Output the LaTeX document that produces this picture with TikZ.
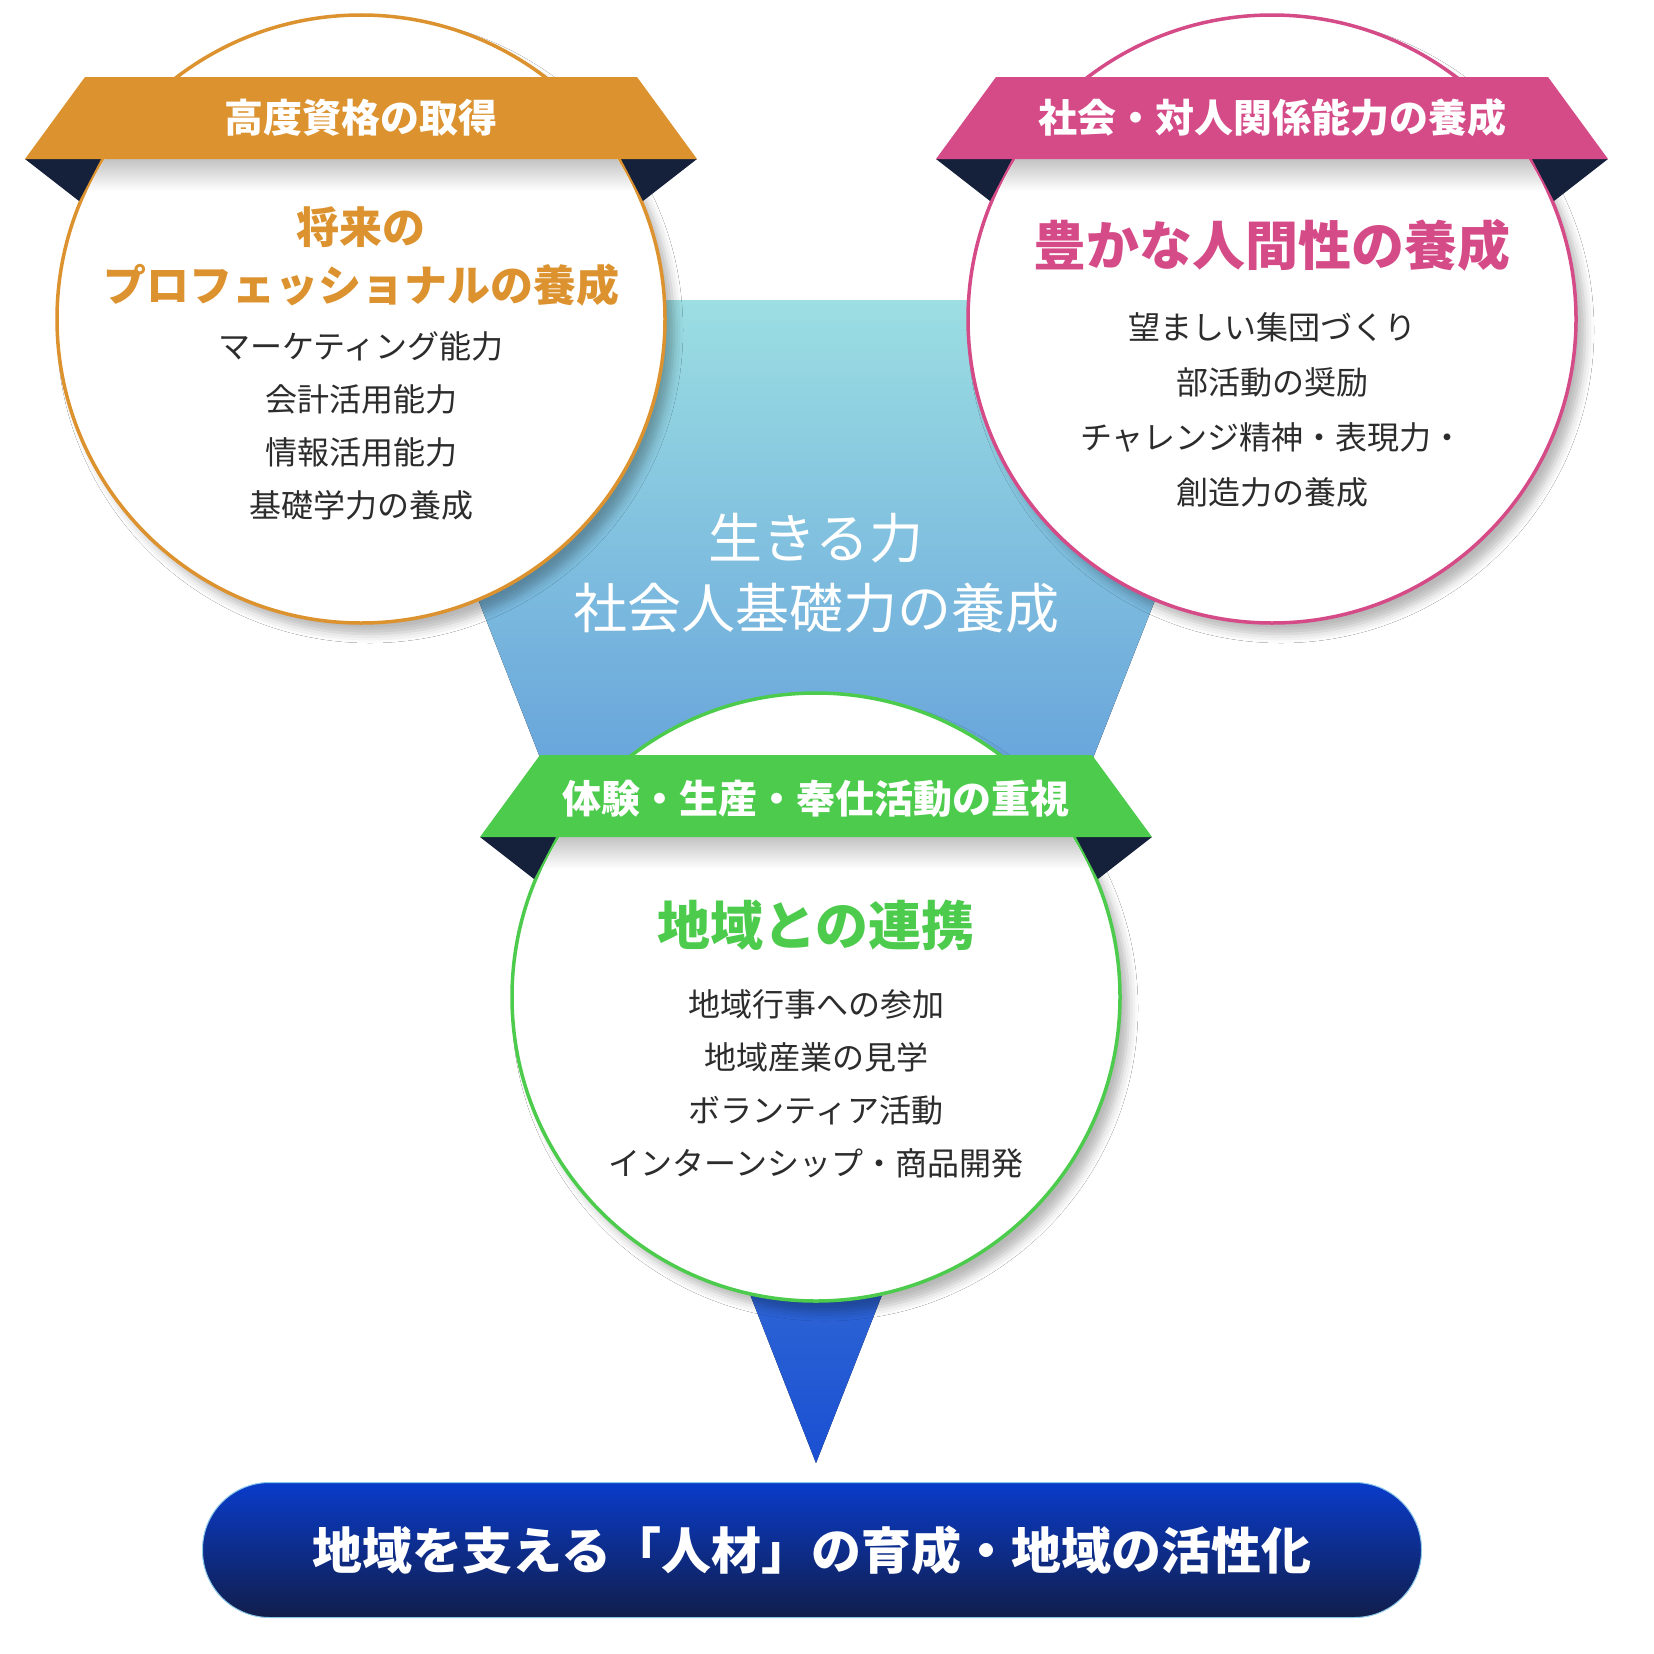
\documentclass[tikz,border=0pt]{standalone}
\usepackage{fontspec}
\newfontfamily\jp{Noto Sans CJK JP}
\usepackage{tikz}
\usetikzlibrary{positioning,shadows.blur}
\definecolor{orng}{HTML}{DC922E}
\definecolor{pink}{HTML}{D54B88}
\definecolor{grn}{HTML}{4CCB4C}
\definecolor{fold}{HTML}{15203A}
\definecolor{ink}{HTML}{2C2C2C}
\definecolor{tealtop}{HTML}{9CDEE2}
\definecolor{tealmid}{HTML}{6ABAD6}
\definecolor{bluetip}{HTML}{1A4FD2}
\definecolor{pilltop}{HTML}{0A3CCB}
\definecolor{pillbot}{HTML}{111E4B}
\definecolor{pilledge}{HTML}{8CC8E8}

\begin{document}
\begin{tikzpicture}[x=1pt, y=-1pt, font=\jp,
  ring/.style={circle, draw=#1, line width=3.5pt, fill=white, minimum size=608pt, inner sep=0pt,
    blur shadow={shadow xshift=9pt, shadow yshift=-11pt, shadow blur radius=9pt, shadow opacity=28}},
  band/.style={fill=#1},
  tag/.style={text=white, font=\jp\bfseries\fontsize{39}{44}\selectfont},
  head/.style={text=#1, align=center, font=\jp\bfseries\fontsize{53}{58}\selectfont},
  items/.style={text=ink, align=center, font=\jp\fontsize{32}{53}\selectfont}]
\useasboundingbox (0,0) rectangle (1654,1654);
\fill[white] (0,0) rectangle (1654,1654);

\fill[top color=tealtop, middle color=tealmid, bottom color=bluetip]
  (361,300) coordinate (tl) -- (1273,300) coordinate (tr) -- (816,1463) coordinate (tip) -- cycle;

\node (pro) [ring=orng] at (361,319) {};
\node (hum) [ring=pink] at (1272,319) {};
\node (reg) [ring=grn] at (816,997) {};

\foreach \c/\col in {pro/orng, hum/pink, reg/grn} {
  \begin{scope}[shift={(\c.center)}]
    \begin{scope}
      \clip (0,0) circle (302);
      \shade[top color=black!25, bottom color=white] (-336,-162) rectangle (336,-128);
    \end{scope}
    \fill[fold] (-336,-160) -- (-260,-160) -- (-282,-118) -- cycle;
    \fill[fold] (336,-160) -- (260,-160) -- (282,-118) -- cycle;
    \fill[band=\col] (-276,-242) -- (276,-242) -- (336,-160) -- (-336,-160) -- cycle;
  \end{scope}
}

\node (proTag) [tag] at ([yshift=201pt]pro.center) {高度資格の取得};
\node (humTag) [tag] at ([yshift=201pt]hum.center) {社会・対人関係能力の養成};
\node (regTag) [tag] at ([yshift=198pt]reg.center) {体験・生産・奉仕活動の重視};

\node (proHead) [head=orng, font=\jp\bfseries\fontsize{43}{58}\selectfont] at ([yshift=63pt]pro.center) {将来の\\プロフェッショナルの養成};
\node (proItems) [items] at ([yshift=-107pt]pro.center) {マーケティング能力\\会計活用能力\\情報活用能力\\基礎学力の養成};

\node (humHead) [head=pink] at ([yshift=74pt]hum.center) {豊かな人間性の養成};
\node (humItems) [items, font=\jp\fontsize{32}{55}\selectfont] at ([yshift=-91pt]hum.center) {望ましい集団づくり\\部活動の奨励\\チャレンジ精神・表現力・\\創造力の養成};

\node (regHead) [head=grn] at ([yshift=72pt]reg.center) {地域との連携};
\node (regItems) [items] at ([yshift=-87pt]reg.center) {地域行事への参加\\地域産業の見学\\ボランティア活動\\インターンシップ・商品開発};

\node (core) [text=white, align=center, font=\jp\fontsize{54}{70}\selectfont] at (816,573) {生きる力\\社会人基礎力の養成};

\node (goal) [rounded corners=67pt, minimum width=1219pt, minimum height=135pt, top color=pilltop, bottom color=pillbot,
  draw=pilledge, line width=1pt, text=white, font=\jp\bfseries\fontsize{50}{56}\selectfont] at (812,1550) {地域を支える「人材」の育成・地域の活性化};
\end{tikzpicture}
\end{document}
